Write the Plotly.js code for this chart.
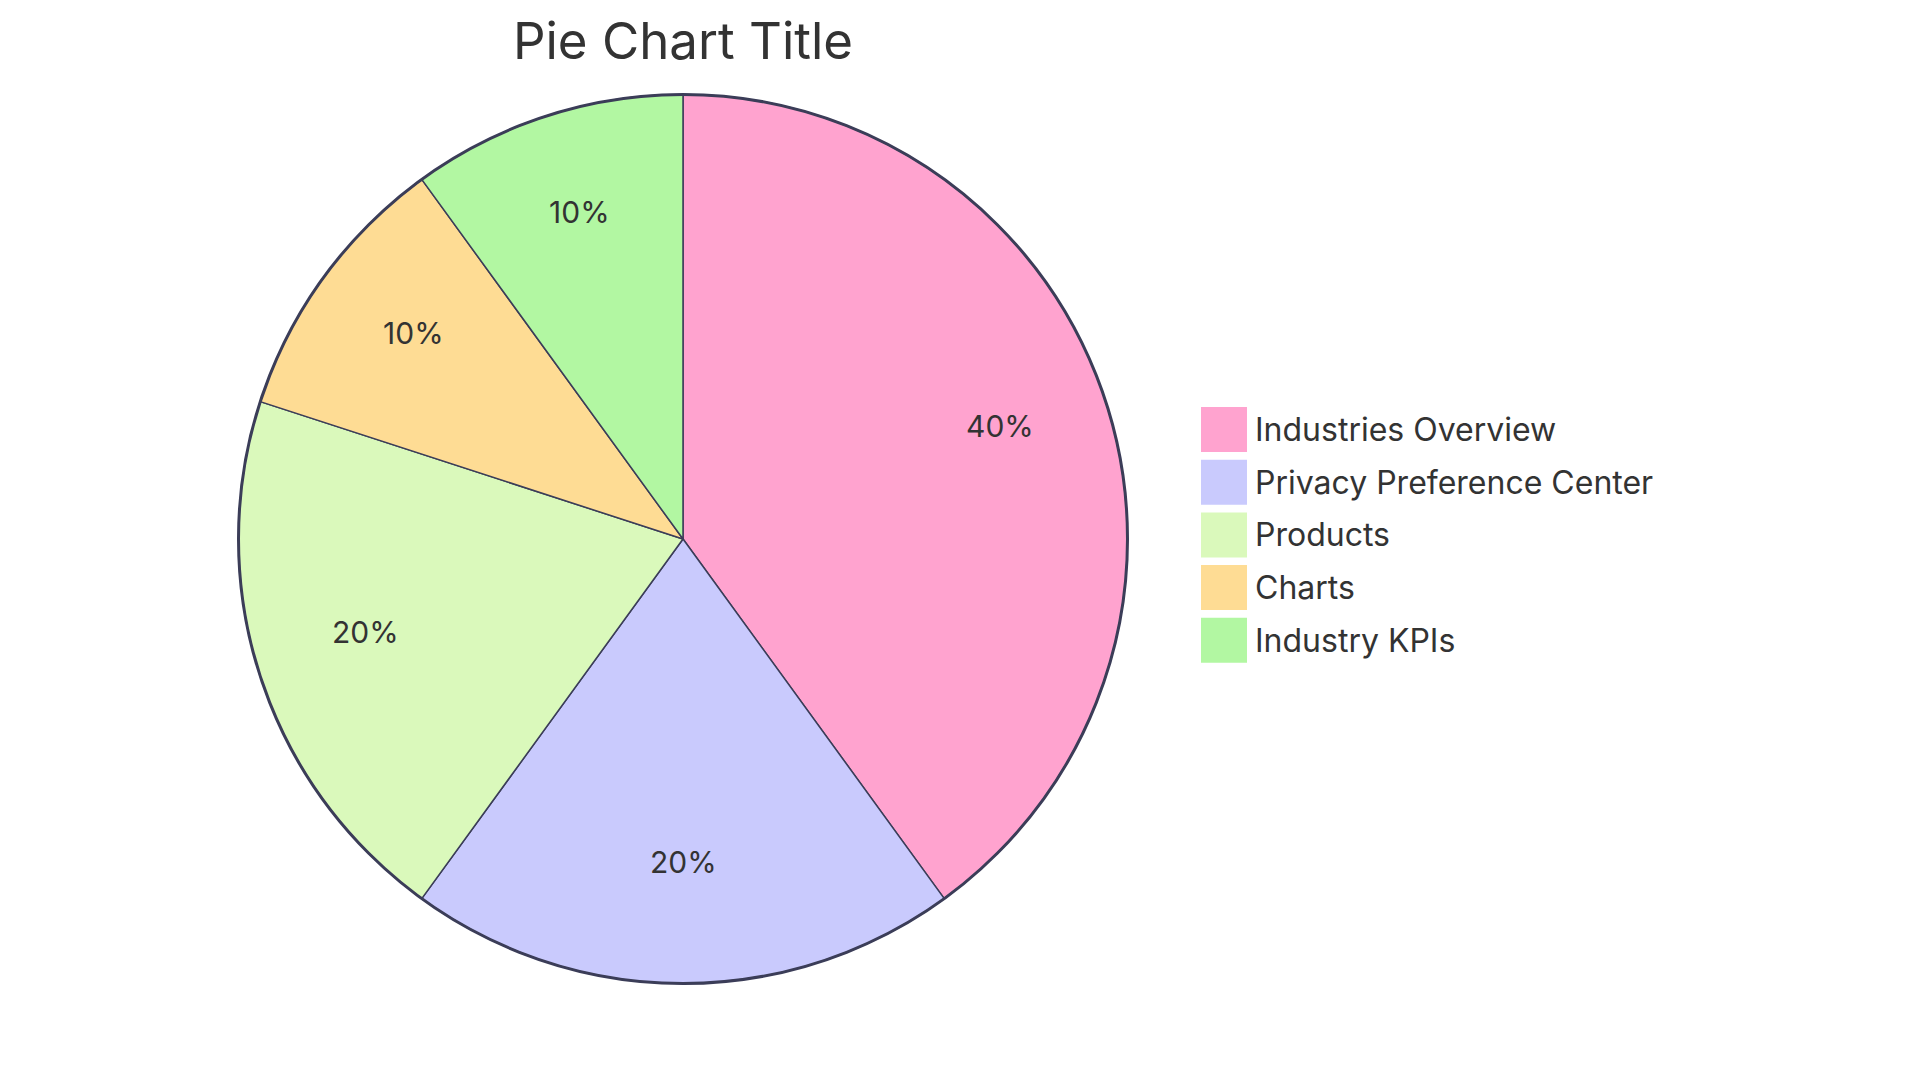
<!DOCTYPE html>
<html>
<head>
<meta charset="utf-8">
<script src="https://cdn.plot.ly/plotly-3.0.1.min.js"></script>
<style>
html,body{margin:0;padding:0;background:#ffffff;}
#chart{width:1920px;height:1080px;}
</style>
</head>
<body>
<div id="chart"></div>
<script>
const categories = ["Industries Overview", "Privacy Preference Center", "Products", "Charts", "Industry KPIs"];
const values = [40, 20, 20, 10, 10];
const colors = ["#FFA3CF", "#C9CAFD", "#DAF9BB", "#FEDC94", "#B2F7A2"];
const chartTitle = "Pie Chart Title";

const W = 1920, H = 1080;
const cx = 683, cy = 539, R = 444.5;
const lineColor = "#3b3d58";
const textColor = "#333333";
const fontFamily = "Inter, 'Noto Sans', sans-serif";

const trace = {
  type: "pie",
  labels: categories,
  values: values,
  sort: false,
  direction: "clockwise",
  rotation: 0,
  marker: {colors: colors, line: {color: lineColor, width: 1.5}},
  textinfo: "none",
  hoverinfo: "label+percent",
  showlegend: false,
  domain: {x: [(cx - R) / W, (cx + R) / W], y: [1 - (cy + R) / H, 1 - (cy - R) / H]}
};

const shapes = [{
  type: "circle", xref: "paper", yref: "paper",
  x0: (cx - R) / W, x1: (cx + R) / W, y0: 1 - (cy + R) / H, y1: 1 - (cy - R) / H,
  line: {color: lineColor, width: 3}, fillcolor: "rgba(0,0,0,0)", layer: "above"
}];
const annotations = [];

// percentage labels placed at 0.75 R along each slice's bisector (derived from values)
const total = values.reduce((a, b) => a + b, 0);
let cum = 0;
values.forEach((v) => {
  const mid = (cum + v / 2) / total * 2 * Math.PI;
  cum += v;
  const px = cx + 0.75 * R * Math.sin(mid);
  const py = cy - 0.75 * R * Math.cos(mid) - 10;
  annotations.push({
    xref: "paper", yref: "paper", x: px / W, y: 1 - py / H,
    xanchor: "center", yanchor: "middle", showarrow: false,
    text: Math.round(v / total * 100) + "%",
    font: {family: fontFamily, size: 30, color: textColor}
  });
});

const legX = 1201, legTop = 407, sw = 46, sh = 45, step = 52.7;
categories.forEach((c, i) => {
  const top = legTop + i * step;
  shapes.push({
    type: "rect", xref: "paper", yref: "paper",
    x0: legX / W, x1: (legX + sw) / W, y0: 1 - (top + sh) / H, y1: 1 - top / H,
    fillcolor: colors[i], line: {width: 0}
  });
  annotations.push({
    xref: "paper", yref: "paper", x: 1253 / W, y: 1 - (top + sh / 2) / H,
    xanchor: "left", yanchor: "middle", showarrow: false, text: c,
    font: {family: fontFamily, size: 32, color: textColor}
  });
});

const layout = {
  width: W, height: H,
  margin: {l: 0, r: 0, t: 0, b: 0},
  paper_bgcolor: "#ffffff",
  showlegend: false,
  title: {text: chartTitle, x: cx / W, xanchor: "center", xref: "paper", y: 1 - 41 / H, yref: "paper", yanchor: "middle",
          font: {family: fontFamily, size: 51, color: textColor}},
  shapes: shapes,
  annotations: annotations
};

Plotly.newPlot("chart", [trace], layout, {displayModeBar: false});
</script>
</body>
</html>
